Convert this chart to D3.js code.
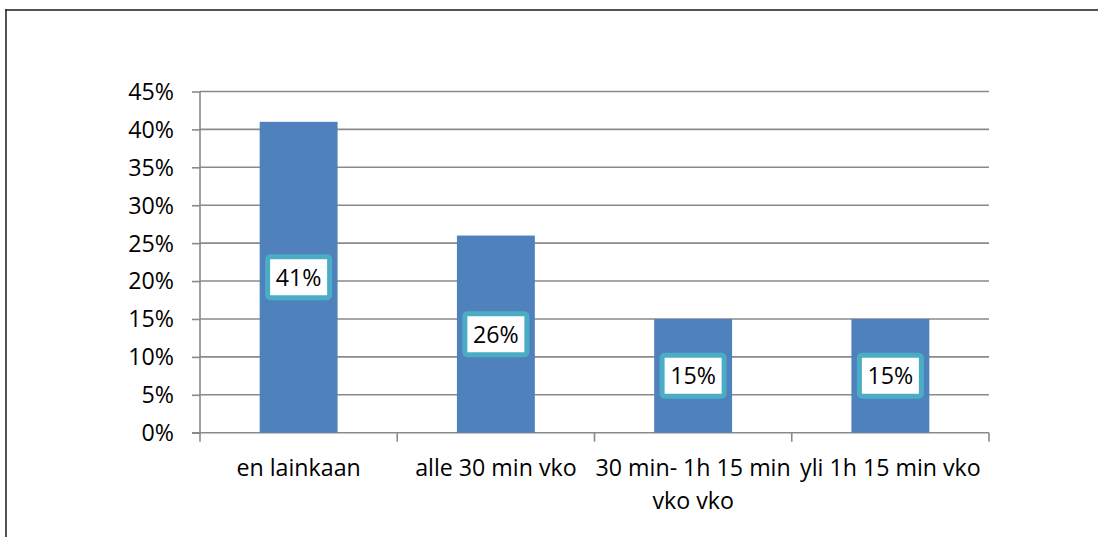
<!DOCTYPE html>
<html>
<head>
<meta charset="utf-8">
<script src="https://cdn.jsdelivr.net/npm/d3@7"></script>
<style>
  html, body { margin: 0; padding: 0; background: #fff; overflow: hidden; }
  svg { display: block; }
  text { font-family: "Open Sans", "Noto Sans", sans-serif; fill: #000; }
</style>
</head>
<body>
<svg id="chart" width="1098" height="537"></svg>
<script>
// Weekly time categories and their shares
const categories = ["en lainkaan", "alle 30 min vko", "30 min- 1h 15 min vko vko", "yli 1h 15 min vko"];
const categoryLines = [["en lainkaan"], ["alle 30 min vko"], ["30 min- 1h 15 min", "vko vko"], ["yli 1h 15 min vko"]];
const shares = [0.41, 0.26, 0.15, 0.15];
const valueLabels = ["41%", "26%", "15%", "15%"];
const tickValues = [0, 0.05, 0.10, 0.15, 0.20, 0.25, 0.30, 0.35, 0.40, 0.45];
const tickLabels = ["0%", "5%", "10%", "15%", "20%", "25%", "30%", "35%", "40%", "45%"];

const svg = d3.select("#chart");

// Outer chart frame: top and left edges
svg.append("line")
  .attr("x1", 5.25).attr("x2", 1098)
  .attr("y1", 10).attr("y2", 10)
  .attr("stroke", "#1a1a1a").attr("stroke-width", 1.5);
svg.append("line")
  .attr("x1", 6).attr("x2", 6)
  .attr("y1", 9.25).attr("y2", 537)
  .attr("stroke", "#1a1a1a").attr("stroke-width", 1.5);

const plot = { left: 200, right: 989, top: 91.5, bottom: 432.7 };

const x = d3.scaleBand()
  .domain(categories)
  .range([plot.left, plot.right])
  .padding(0);

const y = d3.scaleLinear()
  .domain([0, 0.45])
  .range([plot.bottom, plot.top]);

const gridColor = "#8a8a8a";

// Horizontal gridlines
svg.append("g")
  .selectAll("line")
  .data(tickValues.filter(v => v > 0))
  .join("line")
  .attr("x1", plot.left).attr("x2", plot.right)
  .attr("y1", d => y(d)).attr("y2", d => y(d))
  .attr("stroke", gridColor)
  .attr("stroke-width", 1.6);

// Value axis
const yAxis = d3.axisLeft(y)
  .tickValues(tickValues)
  .tickFormat((d, i) => tickLabels[i])
  .tickSize(8)
  .tickPadding(18);

const gy = svg.append("g")
  .attr("transform", `translate(${plot.left},0)`)
  .call(yAxis);
gy.select(".domain").remove();
gy.selectAll(".tick line").attr("stroke", gridColor).attr("stroke-width", 1.6);
gy.selectAll(".tick text")
  .attr("font-size", 23.2)
  .attr("font-family", "'Open Sans', sans-serif")
  .attr("fill", "#000")
  .attr("dy", "0.34em");

// Vertical axis line reaching down to the category tick length
svg.append("line")
  .attr("x1", plot.left).attr("x2", plot.left)
  .attr("y1", plot.top).attr("y2", plot.bottom + 9)
  .attr("stroke", gridColor).attr("stroke-width", 1.6);

// Category axis with ticks on band boundaries
svg.append("line")
  .attr("x1", plot.left - 8).attr("x2", plot.right)
  .attr("y1", plot.bottom).attr("y2", plot.bottom)
  .attr("stroke", gridColor).attr("stroke-width", 1.6);

const boundaries = categories.map(c => x(c)).concat([x(categories[categories.length - 1]) + x.bandwidth()]);
svg.append("g")
  .selectAll("line")
  .data(boundaries.slice(1))
  .join("line")
  .attr("x1", d => d).attr("x2", d => d)
  .attr("y1", plot.bottom).attr("y2", plot.bottom + 9)
  .attr("stroke", gridColor).attr("stroke-width", 1.6);

// Bars
const barW = x.bandwidth() * 0.395;
svg.append("g")
  .selectAll("rect")
  .data(shares)
  .join("rect")
  .attr("x", (d, i) => x(categories[i]) + (x.bandwidth() - barW) / 2)
  .attr("y", d => y(d))
  .attr("width", barW)
  .attr("height", d => y(0) - y(d))
  .attr("fill", "#4F81BD");

// Value labels in boxed callouts at bar centres
const lab = svg.append("g")
  .selectAll("g")
  .data(shares)
  .join("g")
  .attr("transform", (d, i) => `translate(${x(categories[i]) + x.bandwidth() / 2},${(y(d) + y(0)) / 2})`);

lab.append("rect")
  .attr("x", -31).attr("y", -20.5)
  .attr("width", 62).attr("height", 41)
  .attr("rx", 2.5)
  .attr("fill", "#fff")
  .attr("stroke", "#4BACC6")
  .attr("stroke-width", 5);

lab.append("text")
  .attr("text-anchor", "middle")
  .attr("y", 8.5)
  .attr("font-size", 23.2)
  .text((d, i) => valueLabels[i]);

// Category labels
const cat = svg.append("g")
  .selectAll("text")
  .data(categories)
  .join("text")
  .attr("text-anchor", "middle")
  .attr("font-size", 23.2)
  .attr("x", d => x(d) + x.bandwidth() / 2)
  .attr("y", 475.7);

cat.selectAll("tspan")
  .data((d, i) => categoryLines[i])
  .join("tspan")
  .attr("x", function () { return d3.select(this.parentNode).attr("x"); })
  .attr("dy", (d, j) => j === 0 ? 0 : 33)
  .text(d => d);
</script>
</body>
</html>
